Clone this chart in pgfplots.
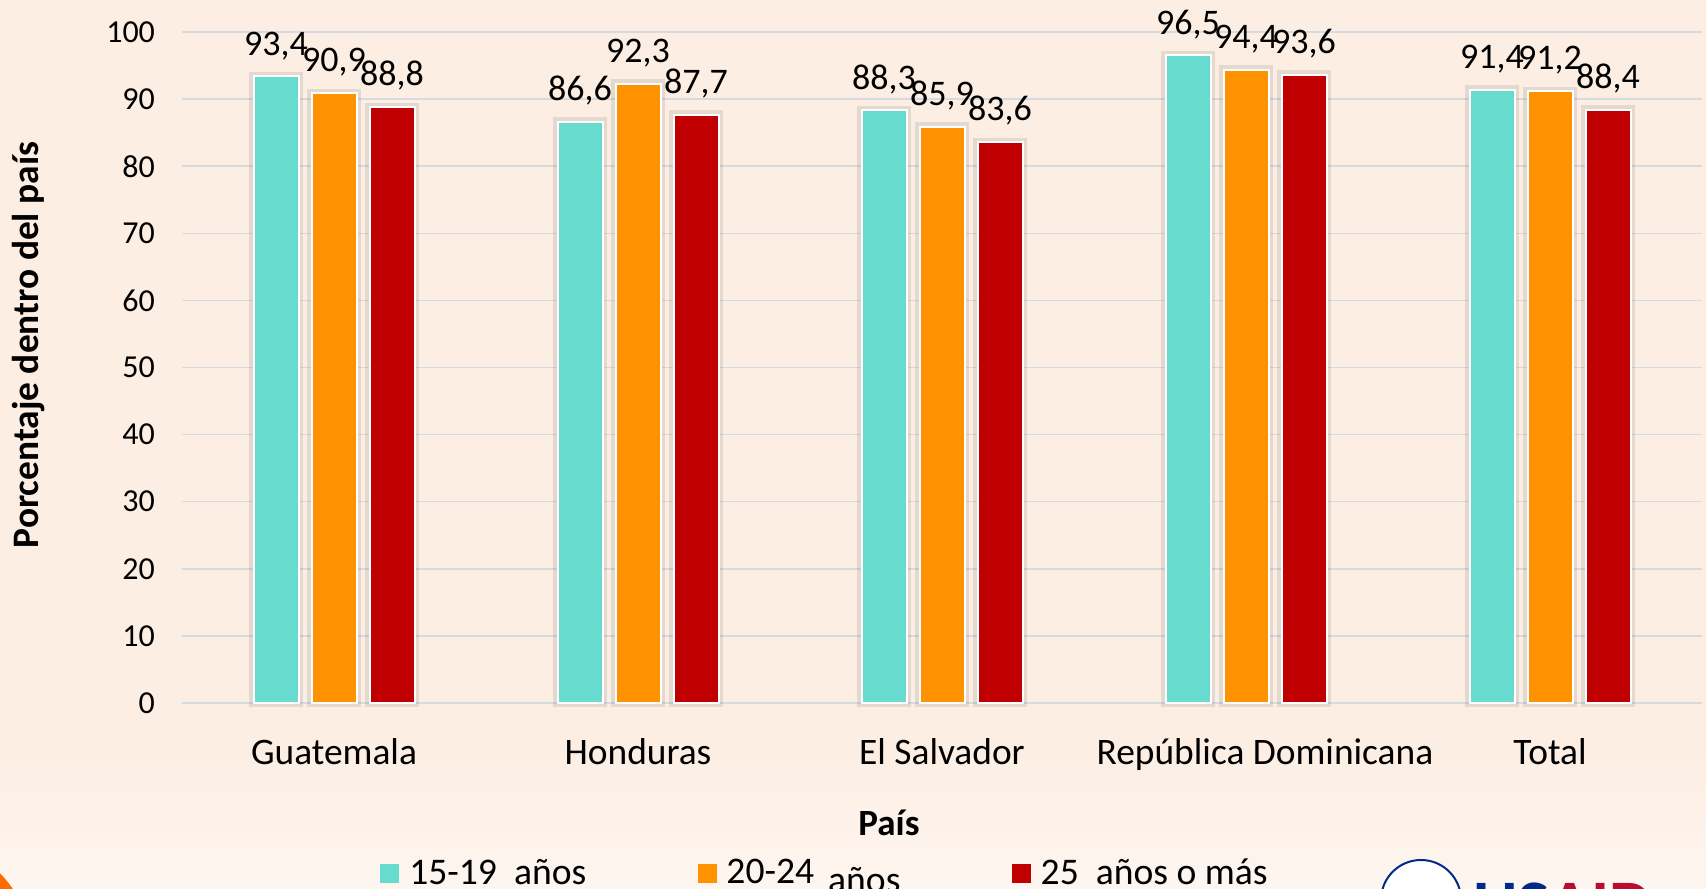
\documentclass[border=0pt]{standalone}
\usepackage{fontspec}
\setmainfont{Carlito}
\usepackage{pgfplots}
\pgfplotsset{compat=1.18}

\definecolor{fondo}{RGB}{252,238,227}
\definecolor{turq}{RGB}{104,219,207}
\definecolor{naranja}{RGB}{255,146,0}
\definecolor{rojo}{RGB}{192,0,0}
\definecolor{rejilla}{RGB}{214,219,225}
\definecolor{usblue}{RGB}{0,42,134}
\definecolor{usred}{RGB}{186,12,47}

\begin{document}
\begin{tikzpicture}
\useasboundingbox (0,0) rectangle (853pt,444pt);
\clip (0,0) rectangle (853pt,444pt);
\fill[fondo] (0,0) rectangle (853pt,444pt);
\shade[top color=fondo, bottom color=fondo!55!white] (0,0) rectangle (853pt,70pt);

% decorative corner and logo strip (cut by the page edge)
\fill[orange!85!red] (-45pt,-36pt) circle (62.5pt);
\draw[usblue, fill=white, line width=1pt] (710.5pt,-6pt) circle (20pt);
\node[anchor=north west, inner sep=0pt, font=\bfseries\fontsize{34}{34}\selectfont]
  at (736.5pt,2.5pt) {\textcolor{usblue}{US}\textcolor{usred}{AID}};

\begin{axis}[
  at={(91pt,92.5pt)}, anchor=south west,
  scale only axis, width=760pt, height=335.5pt,
  ybar, bar width=22.5pt,
  xmin=-0.5, xmax=4.5, ymin=0, ymax=100,
  xtick={0,1,2,3,4},
  xticklabels={Guatemala,Honduras,El Salvador,{\hspace*{19pt}República Dominicana},Total},
  ytick={0,10,...,100},
  ymajorgrids, grid style={rejilla, line width=0.75pt},
  axis line style={draw=none},
  major tick length=0pt,
  /pgf/number format/assume math mode=true,
  yticklabel style={font=\fontsize{16}{19}\selectfont, xshift=-10pt},
  xticklabel style={font=\fontsize{18.7}{22}\selectfont, yshift=-14.3pt, text height=13pt},
  nodes near coords={\pgfmathprintnumber[fixed, fixed zerofill, precision=1, use comma, assume math mode=true]{\pgfplotspointmeta}},
  every node near coord/.append style={font=\fontsize{18}{22}\selectfont, yshift=4.5pt, black},
  clip=false,
  legend columns=3,
  legend style={at={(axis description cs:0.1303,-0.2534)}, anchor=west,
    draw=none, fill=none, inner sep=0pt, font=\fontsize{18.8}{22}\selectfont,
    /tikz/every even column/.append style={column sep=53.7pt}},
  legend image code/.code={\fill[#1, draw=none] (0pt,-5pt) rectangle (9.5pt,4.5pt);
    \path (12.2pt,0pt);},
  barra/.style={draw=white, line width=1pt,
    preaction={draw=black, draw opacity=0.09, line width=4.5pt}},
]
\addplot[barra, fill=turq, bar shift=-29pt, forget plot] coordinates {(0,93.4) (1,86.6) (2,88.3) (3,96.5) (4,91.4)};
\addplot[barra, fill=naranja, bar shift=0pt, forget plot] coordinates {(0,90.9) (1,92.3) (2,85.9) (3,94.4) (4,91.2)};
\addplot[barra, fill=rojo, bar shift=29pt, forget plot] coordinates {(0,88.8) (1,87.7) (2,83.6) (3,93.6) (4,88.4)};
\addlegendimage{fill=turq}
\addlegendimage{fill=naranja}
\addlegendimage{fill=rojo}
\legend{15-19\ \ años, 20-24\hspace{7pt}\raisebox{-4.5pt}{años}, 25\ \ años o más}
\end{axis}

\node[rotate=90, font=\bfseries\fontsize{18.7}{22}\selectfont] at (14.5pt,271.5pt) {Porcentaje dentro del país};
\node[font=\bfseries\fontsize{18.5}{22}\selectfont] at (444.5pt,32.75pt) {País};
\end{tikzpicture}
\end{document}
